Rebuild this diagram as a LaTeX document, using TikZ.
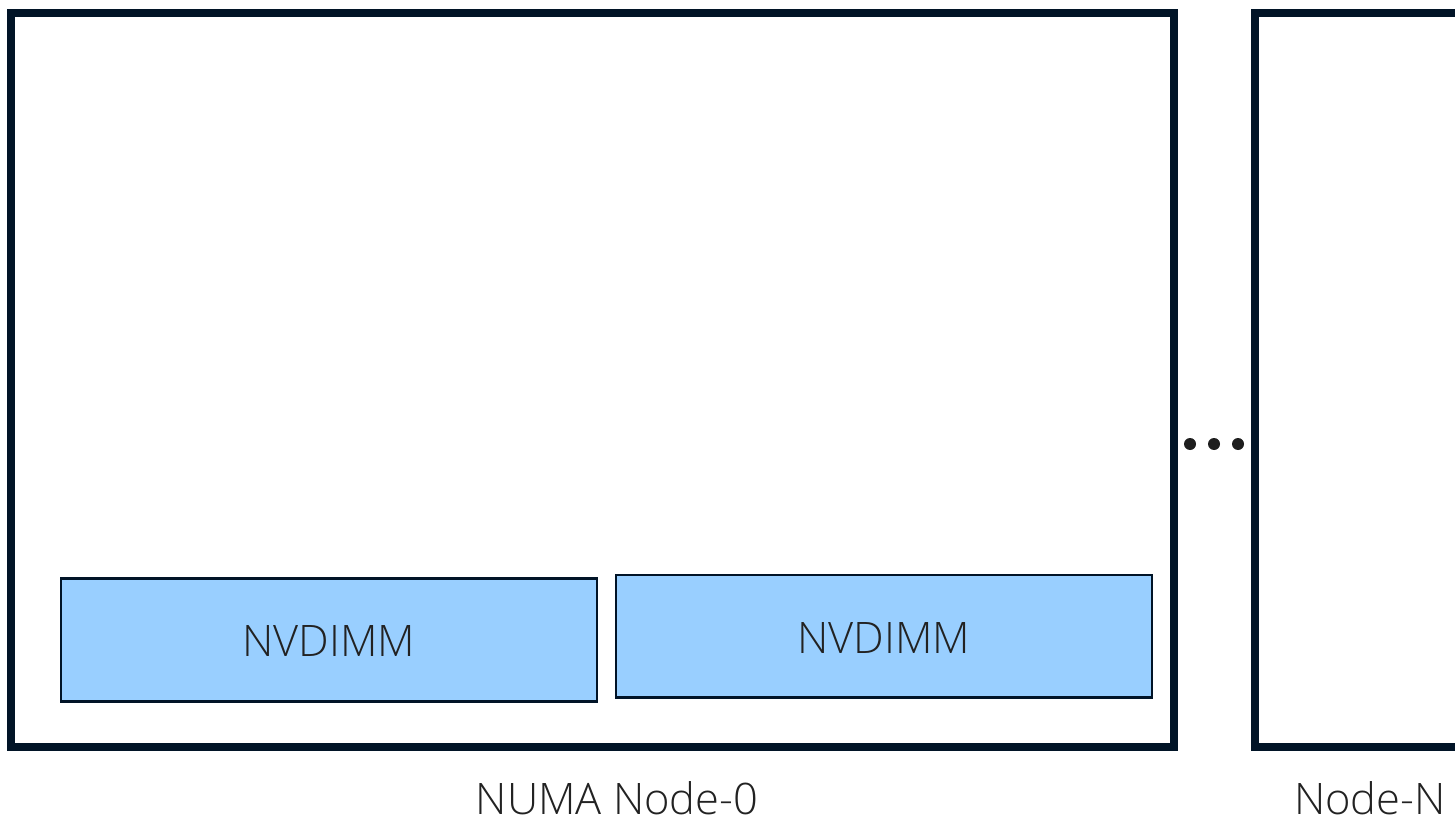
\documentclass[tikz,border=0pt]{standalone}
\usepackage{fontspec}
\setmainfont{Open Sans}[UprightFont={* Light}]
\usepackage{tikz}
\usetikzlibrary{calc}
\definecolor{frameNavy}{RGB}{1,20,39}
\definecolor{dimmBlue}{RGB}{153,207,255}
\definecolor{labelGrey}{RGB}{34,34,34}
\tikzset{every picture/.style={line width=0.75pt}}
\tikzset{
  numabox/.style={draw=frameNavy, line width=4pt},
  dimmbox/.style={draw=frameNavy, fill=dimmBlue, line width=1.1pt},
  lbl/.style={inner sep=0pt, text=labelGrey, font=\fontsize{21.7}{26}\selectfont},
}

\begin{document}
\begin{tikzpicture}[x=0.5pt,y=0.5pt,yscale=-1]
\clip (0,0) rectangle (1455,818);
\fill[white] (0,0) rectangle (1455,818);

%Shape: Rectangle [numa 0]
\draw [numabox] (10.5,13.5) rectangle (1174,747) ;
%Shape: Rectangle [numa N]
\draw [numabox] (1255,13.5) rectangle (1520,747) ;

%Shape: Rectangle [nvdimm a]
\draw [dimmbox] (61,578.5) rectangle (597,701.5) ;
%Shape: Rectangle [nvdimm b]
\draw [dimmbox] (616,575) rectangle (1152,697.5) ;

%Shape: Circle [dots]
\foreach \dx in {1190,1214,1238}
  \fill [color={rgb, 255:red, 30; green, 30; blue, 30 }] (\dx,444) circle (6) ;

% Text Node
\node [lbl] (dimmA) at (329,641) {NVDIMM};
% Text Node
\node [lbl] (dimmB) at (884,638) {NVDIMM};
% Text Node
\node [lbl] (numaLbl) at (617,798) {NUMA Node-0};
% Text Node
\node [lbl] (nodeNLbl) at (1370,798) {Node-N};

\end{tikzpicture}
\end{document}
